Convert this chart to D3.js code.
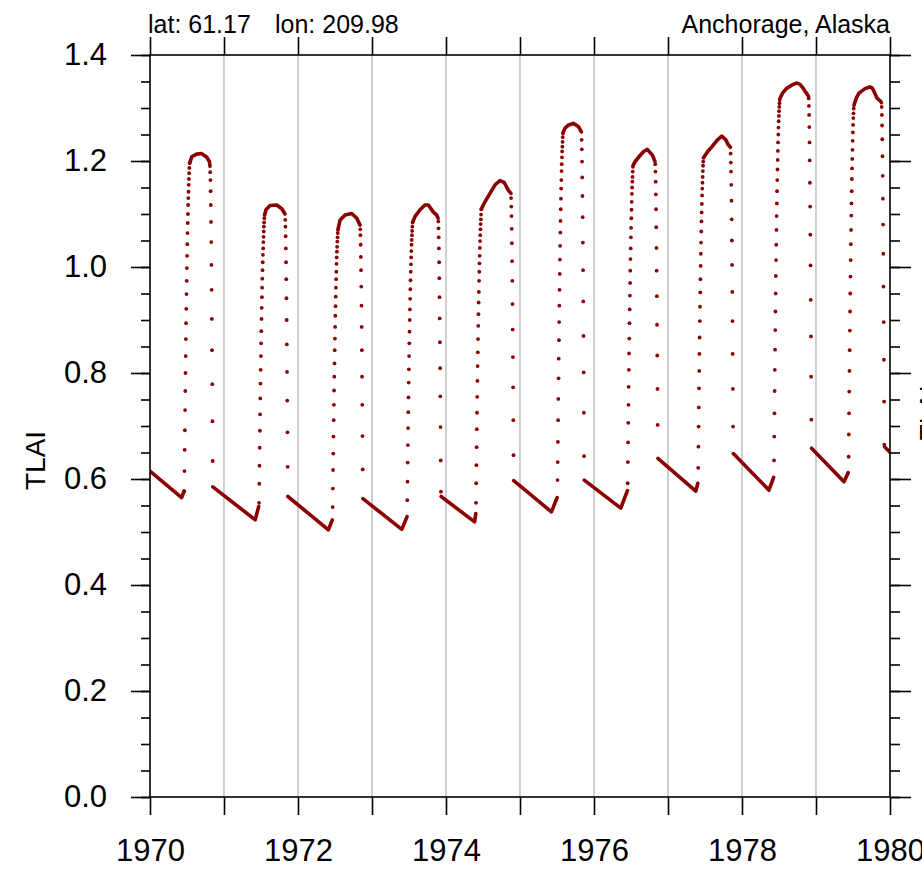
<!DOCTYPE html>
<html>
<head>
<meta charset="utf-8">
<script src="https://cdn.jsdelivr.net/npm/d3@7"></script>
<style>
  body { margin: 0; background: #fff; }
  svg text { font-family: 'Liberation Sans', Arial, Helvetica, sans-serif; fill: #000; }
</style>
</head>
<body>
<svg id="chart" width="922" height="871"></svg>
<script>
// growing seasons, one per year
const seasons = [1970, 1971, 1972, 1973, 1974, 1975, 1976, 1977, 1978, 1979]

// day of year of first dot in spring green-up (daily values follow)
const riseDay = [169, 173, 171, 174, 148, 185, 166, 149, 158, 161]
const riseVals = [
  [0.577, 0.615, 0.655, 0.692, 0.730, 0.766, 0.800, 0.832, 0.864, 0.894, 0.921, 0.949, 0.974, 0.998, 1.021, 1.043, 1.064, 1.083, 1.100, 1.117, 1.130, 1.142, 1.155, 1.166, 1.177, 1.187, 1.196],
  [0.555, 0.591, 0.625, 0.659, 0.691, 0.722, 0.752, 0.780, 0.806, 0.832, 0.856, 0.879, 0.902, 0.923, 0.943, 0.961, 0.978, 0.994, 1.009, 1.023, 1.035, 1.047, 1.057, 1.067, 1.076, 1.084, 1.092, 1.098],
  [0.547, 0.582, 0.617, 0.648, 0.680, 0.711, 0.740, 0.767, 0.793, 0.818, 0.843, 0.865, 0.887, 0.908, 0.926, 0.944, 0.961, 0.977, 0.991, 1.006, 1.018, 1.029, 1.038, 1.048, 1.056, 1.064, 1.070],
  [0.560, 0.595, 0.631, 0.664, 0.696, 0.726, 0.754, 0.782, 0.807, 0.832, 0.856, 0.878, 0.900, 0.920, 0.940, 0.958, 0.975, 0.991, 1.005, 1.018, 1.030, 1.042, 1.051, 1.060, 1.068, 1.076, 1.084],
  [0.555, 0.592, 0.626, 0.660, 0.694, 0.725, 0.755, 0.785, 0.813, 0.839, 0.864, 0.889, 0.911, 0.933, 0.953, 0.974, 0.991, 1.007, 1.021, 1.036, 1.049, 1.060, 1.071, 1.081, 1.090, 1.099, 1.109],
  [0.598, 0.632, 0.670, 0.711, 0.751, 0.790, 0.827, 0.862, 0.896, 0.927, 0.957, 0.987, 1.014, 1.040, 1.065, 1.087, 1.109, 1.129, 1.148, 1.164, 1.181, 1.194, 1.207, 1.218, 1.227, 1.236, 1.245, 1.252],
  [0.592, 0.632, 0.669, 0.706, 0.740, 0.774, 0.806, 0.837, 0.865, 0.894, 0.920, 0.946, 0.970, 0.993, 1.015, 1.035, 1.056, 1.074, 1.092, 1.108, 1.123, 1.138, 1.150, 1.161, 1.170, 1.180, 1.189],
  [0.621, 0.661, 0.699, 0.735, 0.771, 0.804, 0.836, 0.867, 0.898, 0.925, 0.952, 0.977, 1.002, 1.025, 1.046, 1.067, 1.086, 1.103, 1.119, 1.135, 1.148, 1.159, 1.170, 1.181, 1.191, 1.199, 1.206],
  [0.635, 0.680, 0.724, 0.766, 0.806, 0.844, 0.881, 0.916, 0.950, 0.983, 1.013, 1.042, 1.070, 1.096, 1.120, 1.143, 1.164, 1.184, 1.202, 1.219, 1.235, 1.250, 1.263, 1.275, 1.285, 1.294, 1.302, 1.309, 1.315],
  [0.642, 0.684, 0.724, 0.765, 0.804, 0.843, 0.880, 0.916, 0.950, 0.982, 1.013, 1.043, 1.070, 1.097, 1.120, 1.143, 1.166, 1.186, 1.204, 1.221, 1.238, 1.254, 1.268, 1.281, 1.290, 1.299]
]

// summer plateau, [day of year, TLAI]
const humpPts = [
  [[196, 1.196], [206, 1.208], [230, 1.213], [255, 1.214], [280, 1.207], [293, 1.199], [296, 1.190]],
  [[201, 1.099], [207, 1.108], [227, 1.116], [260, 1.117], [285, 1.110], [301, 1.100]],
  [[198, 1.072], [207, 1.088], [232, 1.098], [265, 1.101], [290, 1.092], [306, 1.079]],
  [[201, 1.085], [212, 1.095], [237, 1.108], [261, 1.117], [278, 1.117], [302, 1.104], [319, 1.098], [326, 1.092]],
  [[175, 1.110], [192, 1.123], [217, 1.139], [242, 1.155], [266, 1.163], [288, 1.159], [307, 1.145], [320, 1.139]],
  [[213, 1.254], [222, 1.262], [240, 1.268], [263, 1.271], [288, 1.265], [303, 1.255]],
  [[193, 1.192], [205, 1.200], [222, 1.208], [245, 1.218], [263, 1.222], [288, 1.211], [301, 1.199]],
  [[177, 1.207], [194, 1.217], [219, 1.228], [244, 1.240], [265, 1.247], [285, 1.240], [298, 1.230], [308, 1.226]],
  [[187, 1.318], [200, 1.328], [220, 1.337], [245, 1.343], [268, 1.347], [285, 1.345], [300, 1.338], [312, 1.331], [320, 1.327], [328, 1.322]],
  [[187, 1.305], [198, 1.318], [212, 1.328], [240, 1.336], [265, 1.340], [277, 1.338], [286, 1.331], [302, 1.318], [318, 1.313], [323, 1.310]]
]

// autumn senescence, daily values from fallDay
const fallDay = [297, 302, 307, 327, 321, 304, 302, 309, 329, 324]
const fallVals = [
  [1.179, 1.164, 1.143, 1.117, 1.085, 1.047, 1.004, 0.957, 0.902, 0.843, 0.779, 0.709, 0.634],
  [1.089, 1.076, 1.058, 1.035, 1.009, 0.977, 0.941, 0.900, 0.854, 0.802, 0.748, 0.688, 0.623],
  [1.071, 1.060, 1.042, 1.019, 0.994, 0.963, 0.927, 0.887, 0.843, 0.793, 0.740, 0.681, 0.618],
  [1.086, 1.073, 1.056, 1.035, 1.009, 0.979, 0.943, 0.903, 0.858, 0.809, 0.756, 0.698, 0.635, 0.576],
  [1.130, 1.114, 1.096, 1.072, 1.045, 1.011, 0.974, 0.930, 0.882, 0.830, 0.773, 0.711, 0.645],
  [1.240, 1.222, 1.199, 1.169, 1.134, 1.094, 1.046, 0.994, 0.935, 0.870, 0.801, 0.725, 0.643],
  [1.194, 1.180, 1.161, 1.137, 1.109, 1.075, 1.036, 0.993, 0.945, 0.891, 0.833, 0.770, 0.702],
  [1.214, 1.197, 1.180, 1.155, 1.125, 1.090, 1.050, 1.004, 0.953, 0.898, 0.836, 0.770, 0.699],
  [1.318, 1.304, 1.287, 1.264, 1.235, 1.201, 1.159, 1.114, 1.061, 1.003, 0.938, 0.869, 0.793, 0.712],
  [1.302, 1.287, 1.267, 1.241, 1.209, 1.172, 1.129, 1.080, 1.025, 0.963, 0.896, 0.825, 0.746, 0.665]
]

// winter decline leading into each year's green-up, [day of year, TLAI]
// (negative days belong to the previous autumn)
const winterYears = [1970, 1971, 1972, 1973, 1974, 1975, 1976, 1977, 1978, 1979, 1980]
const winterPts = [
  [[0, 0.615], [156, 0.565], [168, 0.577]],
  [[-55, 0.585], [154, 0.523], [171, 0.548]],
  [[-50, 0.567], [150, 0.504], [169, 0.523]],
  [[-45, 0.563], [147, 0.505], [173, 0.529]],
  [[-24, 0.567], [141, 0.519], [147, 0.535]],
  [[-31, 0.597], [155, 0.538], [183, 0.565]],
  [[-48, 0.598], [132, 0.545], [165, 0.578]],
  [[-50, 0.639], [137, 0.577], [147, 0.592]],
  [[-43, 0.648], [133, 0.579], [156, 0.603]],
  [[-22, 0.658], [138, 0.595], [159, 0.612]],
  [[-27, 0.661], [1, 0.650]]
]

const yTicks = [0, 0.2, 0.4, 0.6, 0.8, 1.0, 1.2, 1.4]
const yMinor = d3.range(0, 1.401, 0.05)
const xTicks = [1970, 1971, 1972, 1973, 1974, 1975, 1976, 1977, 1978, 1979, 1980]
const xLabels = [1970, 1972, 1974, 1976, 1978, 1980]

const margin = { left: 150, right: 32, top: 55, bottom: 74 }
const width = 922
const height = 871
const lineColor = '#8b0000'

const svg = d3.select('#chart')

const x =
  d3.scaleLinear()
    .domain([1970, 1980])
    .range([margin.left, width - margin.right])
const y =
  d3.scaleLinear()
    .domain([0, 1.4])
    .range([height - margin.bottom, margin.top])

const toDate = (yr, day) => yr + day / 365

svg.append('defs')
  .append('clipPath')
  .attr('id', 'plot-clip')
  .append('rect')
  .attr('x', x(1970))
  .attr('y', y(1.4))
  .attr('width', x(1980) - x(1970))
  .attr('height', y(0) - y(1.4))

// yearly grid lines
svg.append('g')
  .selectAll('line')
  .data(xTicks.slice(1, -1))
  .enter()
  .append('line')
  .attr('x1', d => x(d))
  .attr('x2', d => x(d))
  .attr('y1', y(1.4))
  .attr('y2', y(0))
  .attr('stroke', '#c4c4c4')
  .attr('stroke-width', 1.6)

const plot =
  svg.append('g')
    .attr('clip-path', 'url(#plot-clip)')

const line =
  d3.line()
    .x(d => x(d[0]))
    .y(d => y(d[1]))

const denseSegs = []
winterPts.forEach((pts, i) => {
  denseSegs.push(pts.map(p => [toDate(winterYears[i], p[0]), p[1]]))
})
humpPts.forEach((pts, i) => {
  denseSegs.push(pts.map(p => [toDate(seasons[i], p[0]), p[1]]))
})

plot.selectAll('.dense')
  .data(denseSegs)
  .enter()
  .append('path')
  .attr('class', 'dense')
  .attr('fill', 'none')
  .attr('stroke', lineColor)
  .attr('stroke-width', 3.6)
  .attr('stroke-linecap', 'round')
  .attr('stroke-linejoin', 'round')
  .attr('d', line)

const dots = []
seasons.forEach((yr, i) => {
  riseVals[i].forEach((v, k) => dots.push([toDate(yr, riseDay[i] + k), v]))
  fallVals[i].forEach((v, k) => dots.push([toDate(yr, fallDay[i] + k), v]))
})

plot.selectAll('.dot')
  .data(dots)
  .enter()
  .append('circle')
  .attr('class', 'dot')
  .attr('cx', d => x(d[0]))
  .attr('cy', d => y(d[1]))
  .attr('r', 1.9)
  .attr('fill', lineColor)

// frame
svg.append('rect')
  .attr('x', x(1970))
  .attr('y', y(1.4))
  .attr('width', x(1980) - x(1970))
  .attr('height', y(0) - y(1.4))
  .attr('fill', 'none')
  .attr('stroke', '#000')
  .attr('stroke-width', 1.6)

function styleAxis (g) {
  g.select('.domain').remove()
  g.selectAll('.tick line').attr('stroke', '#000').attr('stroke-width', 1.6)
  g.selectAll('text').attr('font-size', 31).attr('fill', '#000')
}

const fmtY = d3.format('.1f')

svg.append('g')
  .attr('transform', `translate(0, ${y(0)})`)
  .call(d3.axisBottom(x).tickValues(xTicks).tickSize(18).tickPadding(24)
    .tickFormat(d => xLabels.includes(d) ? d : ''))
  .call(styleAxis)

svg.append('g')
  .attr('transform', `translate(0, ${y(1.4)})`)
  .call(d3.axisTop(x).tickValues(xTicks).tickSize(18).tickFormat(''))
  .call(styleAxis)

svg.append('g')
  .attr('transform', `translate(${x(1970)}, 0)`)
  .call(d3.axisLeft(y).tickValues(yMinor).tickSize(9).tickFormat(''))
  .call(styleAxis)

svg.append('g')
  .attr('transform', `translate(${x(1970)}, 0)`)
  .call(d3.axisLeft(y).tickValues(yTicks).tickSize(19).tickPadding(24).tickFormat(fmtY))
  .call(styleAxis)

svg.append('g')
  .attr('transform', `translate(${x(1980)}, 0)`)
  .call(d3.axisRight(y).tickValues(yMinor).tickSize(10).tickFormat(''))
  .call(styleAxis)

svg.append('g')
  .attr('transform', `translate(${x(1980)}, 0)`)
  .call(d3.axisRight(y).tickValues(yTicks).tickSize(21).tickFormat(''))
  .call(styleAxis)

// titles
svg.append('text')
  .attr('transform', `translate(45, ${y(0.635)}) rotate(-90)`)
  .attr('text-anchor', 'middle')
  .attr('font-size', 28)
  .text('TLAI')

// edge of the neighbouring panel's axis title, cut by the image border
svg.append('text')
  .attr('transform', `translate(938, ${y(0.725)}) rotate(-90)`)
  .attr('text-anchor', 'middle')
  .attr('font-size', 26)
  .text('TLAI')

svg.append('text')
  .attr('x', 148)
  .attr('y', 33)
  .attr('font-size', 25)
  .text('lat: 61.17')

svg.append('text')
  .attr('x', 275)
  .attr('y', 33)
  .attr('font-size', 25)
  .text('lon: 209.98')

svg.append('text')
  .attr('x', x(1980))
  .attr('y', 33)
  .attr('text-anchor', 'end')
  .attr('font-size', 25)
  .text('Anchorage, Alaska')
</script>
</body>
</html>
